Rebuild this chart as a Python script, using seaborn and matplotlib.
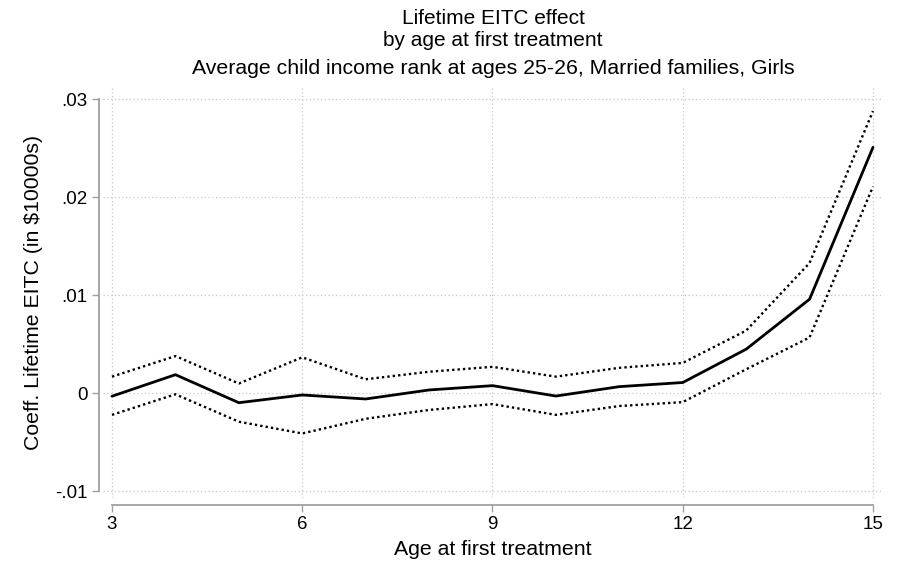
import matplotlib
matplotlib.use("Agg")
import matplotlib.pyplot as plt
import seaborn as sns
import pandas as pd
from matplotlib.ticker import FuncFormatter

# Coefficient estimates and 95% bounds by age at first treatment
ages = [3, 4, 5, 6, 7, 8, 9, 10, 11, 12, 13, 14, 15]
coef = [-0.0003, 0.0019, -0.00096, -0.00017, -0.00058, 0.00034, 0.00078,
        -0.00028, 0.00068, 0.0011, 0.0045, 0.0096, 0.0251]
upper = [0.0017, 0.0038, 0.0010, 0.00367, 0.00143, 0.0022, 0.0027,
         0.0017, 0.0026, 0.0031, 0.0064, 0.0133, 0.0288]
lower = [-0.0022, -0.0001, -0.0029, -0.0041, -0.0026, -0.0017, -0.0011,
         -0.0022, -0.0013, -0.0009, 0.00245, 0.0057, 0.0211]

x_ticks = [3, 6, 9, 12, 15]
y_ticks = [-0.01, 0, 0.01, 0.02, 0.03]

df = pd.DataFrame({"age": ages, "coef": coef, "upper": upper, "lower": lower})

sns.set_theme(style="white")
plt.rcParams["font.family"] = ["Liberation Sans", "DejaVu Sans"]
plt.rcParams["text.color"] = "black"
plt.rcParams["axes.labelcolor"] = "black"

W, H = 899, 566
fig = plt.figure(figsize=(W / 100, H / 100), dpi=100)
left_px, right_px, top_px, bot_px = 103, 883, 87, 498
ax = fig.add_axes([left_px / W, (H - bot_px) / H,
                   (right_px - left_px) / W, (bot_px - top_px) / H])

grid_kw = dict(color="#c8c8c8", linestyle=(0, (1, 2)), linewidth=0.9, zorder=0)
for yt in y_ticks:
    ax.axhline(yt, **grid_kw)
for xt in x_ticks:
    ax.axvline(xt, **grid_kw)

sns.lineplot(data=df, x="age", y="upper", ax=ax, color="black",
             linewidth=1.7, linestyle=(0, (1, 1.3)))
sns.lineplot(data=df, x="age", y="lower", ax=ax, color="black",
             linewidth=1.7, linestyle=(0, (1, 1.3)))
sns.lineplot(data=df, x="age", y="coef", ax=ax, color="black",
             linewidth=2.0)

ax.set_xlim(2.858, 15.158)
ax.set_ylim(-0.010684, 0.031255)
ax.set_xticks(x_ticks)
ax.set_yticks(y_ticks)


def stata_fmt(v, pos):
    if abs(v) < 1e-12:
        return "0"
    s = f"{v:.2f}"
    return s.replace("0.", ".")


ax.yaxis.set_major_formatter(FuncFormatter(stata_fmt))

axis_color = "#a0a0a0"
for side in ["top", "right"]:
    ax.spines[side].set_visible(False)
ax.spines["left"].set_position(("outward", 2.9))
ax.spines["bottom"].set_position(("outward", 5.0))
ax.spines["left"].set_bounds(-0.01, 0.03)
ax.spines["bottom"].set_bounds(3, 15)
for side in ["left", "bottom"]:
    ax.spines[side].set_color(axis_color)
    ax.spines[side].set_linewidth(1.3)
ax.tick_params(axis="both", which="major", length=5, width=1.0,
               color=axis_color, labelsize=13.5, labelcolor="black",
               left=True, bottom=True, pad=3)

ax.set_xlabel("Age at first treatment", fontsize=15.3, labelpad=5)
ax.set_ylabel("Coeff. Lifetime EITC (in $10000s)", fontsize=15.3, labelpad=9)

cx = (left_px + right_px) / 2 / W
fig.text(cx, 1 - 18 / H, "Lifetime EITC effect", ha="center", va="center",
         fontsize=15)
fig.text(cx, 1 - 40 / H, "by age at first treatment", ha="center",
         va="center", fontsize=15)
fig.text(cx, 1 - 68 / H,
         "Average child income rank at ages 25-26, Married families, Girls",
         ha="center", va="center", fontsize=15.3)

fig.savefig("out.png", dpi=100, facecolor="white")
